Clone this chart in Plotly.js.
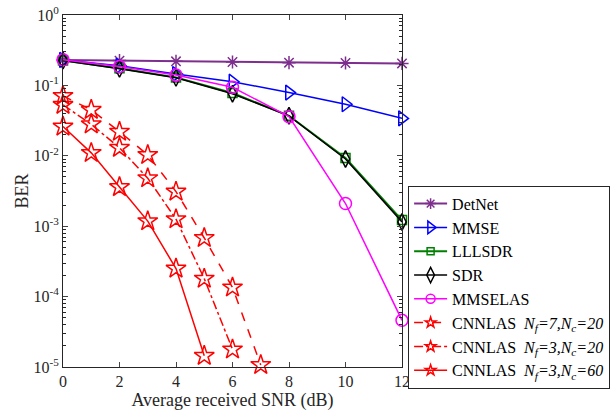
<!DOCTYPE html>
<html>
<head>
<meta charset="utf-8">
<script src="https://cdn.plot.ly/plotly-3.0.1.min.js"></script>
<style>html,body{margin:0;padding:0;background:#fff;} #chart{width:615px;height:415px;}</style>
</head>
<body>
<div id="chart"></div>
<script>
var snr = [0, 2, 4, 6, 8, 10, 12];
var snrCnn1 = [0, 1, 2, 3, 4, 5, 6, 7];
var snrCnn2 = [0, 1, 2, 3, 4, 5, 6];
var snrCnn3 = [0, 1, 2, 3, 4, 5];

var detnet  = [0.23, 0.225, 0.22, 0.215, 0.21, 0.208, 0.205];
var mmse    = [0.23, 0.19, 0.145, 0.113, 0.079, 0.054, 0.034];
var lllsdr  = [0.225, 0.175, 0.13, 0.078, 0.037, 0.0093, 0.00122];
var sdr     = [0.225, 0.172, 0.128, 0.076, 0.037, 0.009, 0.00115];
var mmselas = [0.232, 0.185, 0.14, 0.094, 0.036, 0.0021, 0.000046];
var cnn1    = [0.071, 0.045, 0.022, 0.0103, 0.0031, 0.00068, 0.000135, 0.0000107];
var cnn2    = [0.053, 0.028, 0.013, 0.0048, 0.00126, 0.00018, 0.0000178];
var cnn3    = [0.026, 0.011, 0.0036, 0.00118, 0.00025, 0.0000144];

var names = ['DetNet', 'MMSE', 'LLLSDR', 'SDR', 'MMSELAS',
  'CNNLAS  <i>N<sub>f</sub>=7,N<sub>c</sub>=20</i>',
  'CNNLAS  <i>N<sub>f</sub>=3,N<sub>c</sub>=20</i>',
  'CNNLAS  <i>N<sub>f</sub>=3,N<sub>c</sub>=60</i>'];

var ytickvals = [1e-5, 1e-4, 1e-3, 1e-2, 1e-1, 1];
var yticktext = ['10<sup>-5</sup>', '10<sup>-4</sup>', '10<sup>-3</sup>', '10<sup>-2</sup>', '10<sup>-1</sup>', '10<sup>0</sup>'];

var styles = [
  {color: '#7E2F8E', symbol: 'asterisk-open', size: 11, lsize: 9, dash: 'solid', width: 2},
  {color: '#0000FF', symbol: 'triangle-right-open', size: 13, lsize: 11, dash: 'solid', width: 1.5},
  {color: '#008000', symbol: 'square-open', size: 9, lsize: 7, dash: 'solid', width: 2},
  {color: '#000000', symbol: 'diamond-tall-open', size: 12, lsize: 11, dash: 'solid', width: 1.5},
  {color: '#FF00FF', symbol: 'circle-open', size: 12, lsize: 9, dash: 'solid', width: 1.5},
  {color: '#FF0000', symbol: 'star-open', size: 15, lsize: 8, dash: 'dash', width: 1.5},
  {color: '#FF0000', symbol: 'star-open', size: 15, lsize: 8, dash: 'dashdot', width: 1.5},
  {color: '#FF0000', symbol: 'star-open', size: 15, lsize: 8, dash: 'solid', width: 1.5}
];
var xs = [snr, snr, snr, snr, snr, snrCnn1, snrCnn2, snrCnn3];
var ys = [detnet, mmse, lllsdr, sdr, mmselas, cnn1, cnn2, cnn3];

var data = [];
for (var i = 0; i < ys.length; i++) {
  var s = styles[i];
  data.push({
    x: xs[i], y: ys[i], name: names[i], type: 'scatter', mode: 'lines+markers', cliponaxis: false,
    showlegend: false,
    line: {color: s.color, width: s.width, dash: s.dash},
    marker: {symbol: s.symbol, size: s.size, color: s.color, line: {color: s.color, width: 1.5}}
  });
}
for (var j = 0; j < names.length; j++) {
  var t = styles[j];
  data.push({
    x: [null], y: [null], name: names[j], type: 'scatter', mode: 'lines+markers',
    showlegend: true,
    line: {color: t.color, width: t.width, dash: t.dash},
    marker: {symbol: t.symbol, size: t.lsize, color: t.color, line: {color: t.color, width: 1.5}}
  });
}

var FAM = 'Times New Roman';
var tickFont = {family: FAM, size: 16, color: '#262626'};
var titleFont = {family: FAM, size: 18, color: '#262626'};

var layout = {
  width: 615, height: 415,
  margin: {l: 63, r: 213, t: 15, b: 48, pad: 0, autoexpand: false},
  paper_bgcolor: '#fff', plot_bgcolor: '#fff',
  showlegend: true,
  font: {family: FAM, size: 16, color: '#000'},
  xaxis: {
    range: [0, 12], tickvals: [0, 2, 4, 6, 8, 10, 12], ticks: 'inside', ticklen: 5,
    showline: true, linecolor: '#262626', linewidth: 1, mirror: 'ticks', showgrid: false, zeroline: false,
    tickfont: tickFont,
    title: {text: 'Average received SNR (dB)', font: titleFont, standoff: 4}
  },
  yaxis: {
    type: 'log', range: [-5, 0], tickvals: ytickvals, ticktext: yticktext, ticks: 'inside', ticklen: 5,
    showline: true, linecolor: '#262626', linewidth: 1, mirror: 'ticks', showgrid: false, zeroline: false,
    tickfont: tickFont,
    minor: {ticks: 'inside', ticklen: 3, dtick: 'D1', showgrid: false, tickcolor: '#262626'},
    title: {text: 'BER', font: titleFont, standoff: 0}
  },
  legend: {
    x: 1.018, xanchor: 'left', y: 0.515, yanchor: 'top',
    bgcolor: '#fff', bordercolor: '#262626', borderwidth: 1,
    font: {family: FAM, size: 16, color: '#000'},
    tracegroupgap: 0, itemwidth: 33
  }
};

Plotly.newPlot('chart', data, layout, {displayModeBar: false, staticPlot: true});
</script>
</body>
</html>
